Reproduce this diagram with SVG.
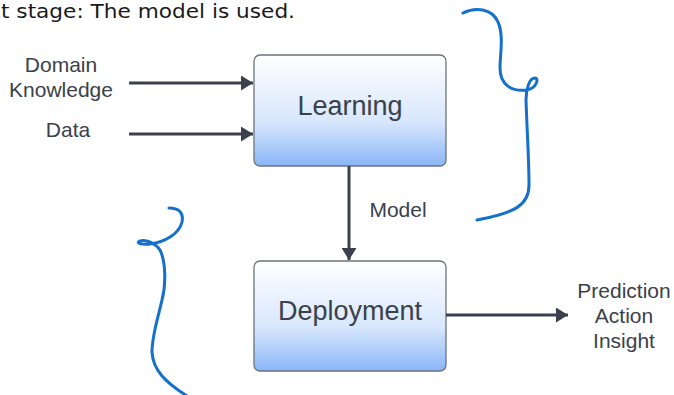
<svg xmlns="http://www.w3.org/2000/svg" width="674" height="395" viewBox="0 0 674 395">
<style>
.box{stroke:#6d737b;stroke-width:1.3;fill:url(#g)}
.lbl{font-family:"Liberation Sans",Arial,sans-serif;fill:#3a414a;text-anchor:middle}
.big{font-size:27px}
.sm{font-size:21px}
.conn{stroke:#3a414c;stroke-width:3;fill:none}
.ink{stroke:#1470c8;stroke-width:3;fill:none;stroke-linecap:round;stroke-linejoin:round}
</style>
<defs>
<linearGradient id="g" x1="0" y1="0" x2="0" y2="1">
<stop offset="0" stop-color="#ffffff"/>
<stop offset="0.6" stop-color="#d8e7fd"/>
<stop offset="1" stop-color="#8ab6f7"/>
</linearGradient>
<marker id="ah" markerWidth="12" markerHeight="15" refX="12" refY="7.5" orient="auto" markerUnits="userSpaceOnUse">
<path d="M0,0 L12,7.5 L0,15 Z" fill="#3a414c"/>
</marker>
</defs>
<rect width="674" height="395" fill="#ffffff"/>
<text x="1" y="18" font-family="'DejaVu Sans','Liberation Sans',sans-serif" font-size="19" fill="#1a1a1a" textLength="294" lengthAdjust="spacingAndGlyphs">t stage: The model is used.</text>
<g id="learning">
<rect class="box" x="254" y="55" width="192" height="111" rx="6"/>
<text class="lbl big" x="350" y="115">Learning</text>
</g>
<g id="deployment">
<rect class="box" x="254" y="261" width="192" height="110" rx="6"/>
<text class="lbl big" x="350" y="320">Deployment</text>
</g>
<g id="inputs">
<text class="lbl sm" x="61" y="72">Domain</text>
<text class="lbl sm" x="61" y="97">Knowledge</text>
<text class="lbl sm" x="68" y="137">Data</text>
</g>
<g id="outputs">
<text class="lbl sm" x="624" y="298">Prediction</text>
<text class="lbl sm" x="624" y="323">Action</text>
<text class="lbl sm" x="624" y="348">Insight</text>
</g>
<g id="connectors">
<line class="conn" x1="129" y1="83" x2="253" y2="83" marker-end="url(#ah)"/>
<line class="conn" x1="129" y1="134" x2="253" y2="134" marker-end="url(#ah)"/>
<line class="conn" x1="349" y1="166" x2="349" y2="260" marker-end="url(#ah)"/>
<line class="conn" x1="446" y1="315" x2="568" y2="315" marker-end="url(#ah)"/>
<text class="lbl sm" x="398" y="217">Model</text>
</g>
<g id="annotations">
<path class="ink" d="M463,13 C475,7 492,8 498,22 C504,35 500,55 500,68 C500,85 512,92 527,90 C537,88 539,78 535,78 C529,78 526,90 526,100 C527,130 529,160 529,185 C529,205 515,213 477,220"/>
<path class="ink" d="M169,208 C178,208 184,212 182,222 C179,234 165,242 150,244 C142,245 135,243 140,241 C146,239 155,243 160,250 C166,262 166,285 162,300 C158,318 152,335 152,352 C153,370 165,382 187,396"/>
</g>
</svg>
